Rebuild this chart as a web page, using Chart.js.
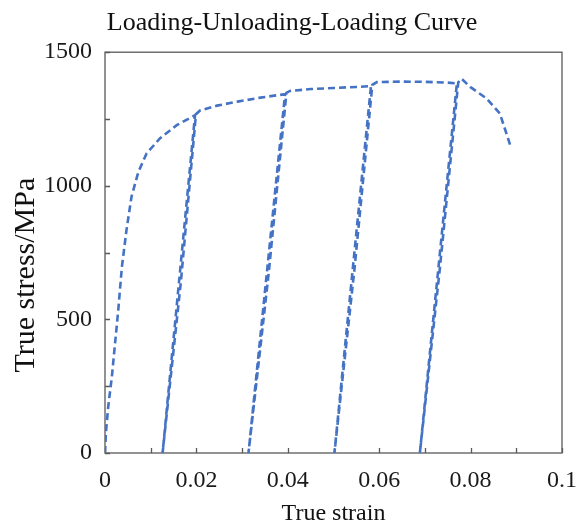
<!DOCTYPE html>
<html>
<head>
<meta charset="utf-8">
<script src="https://cdn.jsdelivr.net/npm/chart.js@4.4.0/dist/chart.umd.min.js"></script>
<style>
  body { margin: 0; background: #fff; }
</style>
</head>
<body>
<canvas id="canvas1" width="576" height="528"></canvas>
<script>
// loading - unloading - reloading path
var strain = [
    0, 0.0002, 0.0007, 0.0015, 0.0022, 0.0029, 0.0037, 0.0047, 0.0058, 0.0073, 0.0091, 0.012, 0.0157, 0.0197,
    0.0126, 0.0166, 0.0199, 0.0208,
    0.0245, 0.029, 0.034, 0.0394,
    0.0314, 0.0358, 0.0397, 0.0405,
    0.045, 0.05, 0.055, 0.0582,
    0.0502, 0.0546, 0.0585, 0.0595,
    0.065, 0.07, 0.075, 0.077,
    0.0689, 0.0733, 0.0773, 0.078,
    0.0799, 0.0835, 0.0864, 0.0888
];
var stress = [
    0, 75, 173, 285, 410, 535, 697, 834, 959, 1052, 1121, 1177, 1227, 1264,
    0, 640, 1268, 1282,
    1300, 1315, 1330, 1343,
    0, 670, 1348, 1355,
    1362, 1366, 1370, 1373,
    0, 690, 1378, 1388,
    1390, 1389, 1386, 1383,
    0, 695, 1387, 1401,
    1370, 1327, 1271, 1145
];

var xStep = 0.01;   // minor ticks, labels every 0.02
var yStep = 250;    // minor ticks, labels every 500

var points = strain.map(function(x, i){ return {x: x, y: stress[i]}; });

Chart.defaults.font.family = '"Liberation Serif", "Times New Roman", serif';
Chart.defaults.color = '#1a1a1a';

// frame + inward tick marks
var frame = {
    id: 'frame',
    beforeDatasetsDraw: function(chart){
        var a = chart.chartArea, ctx = chart.ctx;
        ctx.save();
        ctx.strokeStyle = '#595959';
        ctx.lineWidth = 1.3;
        ctx.strokeRect(a.left, a.top, a.right - a.left, a.bottom - a.top);
        var xs = chart.scales.x, ys = chart.scales.y;
        ctx.beginPath();
        xs.ticks.forEach(function(t){
            var px = Math.round(xs.getPixelForValue(t.value)) + 0.5;
            ctx.moveTo(px, a.bottom); ctx.lineTo(px, a.bottom - 5);
        });
        ys.ticks.forEach(function(t){
            var py = Math.round(ys.getPixelForValue(t.value)) + 0.5;
            ctx.moveTo(a.left, py); ctx.lineTo(a.left + 5, py);
        });
        ctx.stroke();
        ctx.restore();
    }
};

new Chart(document.getElementById('canvas1'), {
    type: 'scatter',
    data: {
        datasets: [{
            data: points,
            showLine: true,
            borderColor: '#4472C4',
            borderWidth: 2.6,
            borderDash: [7, 4],
            pointRadius: 0,
            tension: 0
        }]
    },
    options: {
        responsive: false,
        animation: false,
        layout: { padding: { left: 8, right: 0, top: 0, bottom: 0 } },
        plugins: {
            legend: { display: false },
            tooltip: { enabled: false },
            title: {
                display: true,
                text: 'Loading-Unloading-Loading Curve',
                color: '#111',
                font: { size: 26, weight: 'normal' },
                padding: { top: 8, bottom: 13 }
            }
        },
        scales: {
            x: {
                type: 'linear',
                min: 0, max: 0.1,
                grid: { display: false, drawTicks: false },
                border: { display: false },
                afterFit: function(s){ s.height = 75; s.paddingRight = 14; s.paddingLeft = 0; },
                ticks: {
                    stepSize: xStep,
                    autoSkip: false,
                    maxRotation: 0,
                    padding: 13,
                    font: { size: 24 },
                    callback: function(v){
                        var k = Math.round(v / xStep);
                        return k % 2 === 0 ? String(Number(v.toFixed(2))) : '';
                    }
                },
                title: {
                    display: true,
                    text: 'True strain',
                    color: '#111',
                    font: { size: 24 },
                    padding: { top: 0, bottom: 0 }
                }
            },
            y: {
                min: 0, max: 1500,
                grid: { display: false, drawTicks: false },
                border: { display: false },
                afterFit: function(s){ s.width = 97; },
                ticks: {
                    stepSize: yStep,
                    autoSkip: false,
                    padding: 13,
                    font: { size: 24 },
                    callback: function(v){ return v % 500 === 0 ? v : ''; }
                },
                title: {
                    display: true,
                    text: 'True stress/MPa\u00A0\u00A0\u00A0\u00A0\u00A0\u00A0',
                    color: '#111',
                    font: { size: 30 },
                    padding: { top: 0, bottom: 0 }
                }
            }
        }
    },
    plugins: [frame]
});
</script>
</body>
</html>
